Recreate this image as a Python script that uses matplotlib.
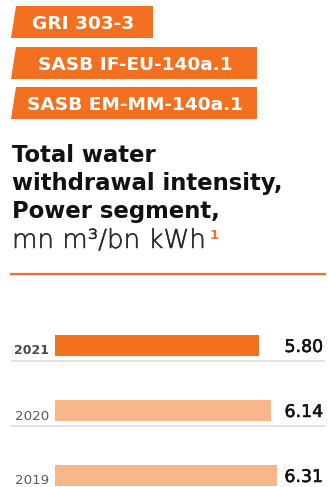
import matplotlib
matplotlib.use("Agg")
import matplotlib.pyplot as plt
import matplotlib.patheffects as pe
from matplotlib.patches import Polygon
from matplotlib.text import Annotation

# Data
years = ["2021", "2020", "2019"]
values = [5.80, 6.14, 6.31]
badges = ["GRI 303-3", "SASB IF-EU-140a.1", "SASB EM-MM-140a.1"]
title_lines = ["Total water", "withdrawal intensity,", "Power segment,"]
unit_text = "mn m³/bn kWh"
footnote = "1"

ORANGE = "#F37021"
LIGHT = "#F9B68A"
FONT = "DejaVu Sans"

W, H = 328, 487
fig = plt.figure(figsize=(W / 100, H / 100), dpi=100)
fig.patch.set_facecolor("white")


def fx(px):
    return px / W


def fy(py):
    return 1 - py / H


# Tag badges (slanted left edge)
badge_boxes = [(16, 11, 153, 6, 38), (16, 11, 257, 47, 79), (16, 11, 257, 87, 119)]
for label, (xt, xb, xr, yt, yb) in zip(badges, badge_boxes):
    poly = Polygon([(fx(xt), fy(yt)), (fx(xr), fy(yt)), (fx(xr), fy(yb)), (fx(xb), fy(yb))],
                   closed=True, transform=fig.transFigure, facecolor=ORANGE, edgecolor="none")
    fig.patches.append(poly)
    fig.text(fx((xb + xr) / 2 + 1), fy((yt + yb) / 2 + 7), label, color="white",
             fontsize=13.3, fontweight="bold", family=FONT, ha="center", va="baseline")

# Title block
baselines = [162, 190, 218]
for line, b in zip(title_lines, baselines):
    fig.text(fx(12), fy(b), line, fontsize=16.4, fontweight="bold", family=FONT,
             color="#111111", ha="left", va="baseline")
unit = fig.text(fx(12), fy(248), unit_text, fontsize=18.8, fontweight=200, family=FONT,
                color="#2a2a2a", ha="left", va="baseline",
                path_effects=[pe.withStroke(linewidth=0.35, foreground="#2a2a2a")])
ann = Annotation(footnote, xy=(1.0, 0.97), xycoords=unit, xytext=(2.5, 0),
                 textcoords="offset points", fontsize=9.5, fontweight="bold",
                 family=FONT, color=ORANGE, ha="left", va="top")
fig.add_artist(ann)

# Orange rule under the title
fig.add_artist(plt.Line2D([fx(11), fx(325)], [fy(274), fy(274)], color=ORANGE, lw=1.6,
                          transform=fig.transFigure))

# Bar axes: x=0 at pixel 55, 35.2 px per unit
scale = 35.2
x0 = 55
ax = fig.add_axes([fx(x0), 0, (W - x0) / W, (H - 280) / H])
ax.set_xlim(0, (W - x0) / scale)
ax.set_ylim(2 + 11.5 / 65, -65.5 / 65)
ax.axis("off")

ypos = list(range(len(years)))
colors = [ORANGE] + [LIGHT] * (len(years) - 1)
bar_h = 21 / 65
ax.barh(ypos, values, height=bar_h, color=colors, edgecolor="none")

for i, (yr, v) in enumerate(zip(years, values)):
    bold = i == 0
    ax.text((49 - x0) / scale, i + 9 / 65, yr, ha="right", va="baseline",
            fontsize=9 if bold else 9.6, family=FONT,
            fontweight="bold" if bold else 300,
            color="#4a4a4a" if bold else "#5a5a5a")
    ax.text((323 - x0) / scale, i + 6.5 / 65, f"{v:.2f}", ha="right", va="baseline",
            fontsize=12.5, family=FONT, fontweight="normal", color="#111111",
            path_effects=[pe.withStroke(linewidth=0.35, foreground="#111111")])
    if i < len(years) - 1:
        ax.plot([(11 - x0) / scale, (325 - x0) / scale], [i + 15.5 / 65] * 2,
                color="#DDDDDD", lw=1.2, clip_on=False, solid_capstyle="butt")

fig.savefig("out.png", dpi=100, facecolor="white")
